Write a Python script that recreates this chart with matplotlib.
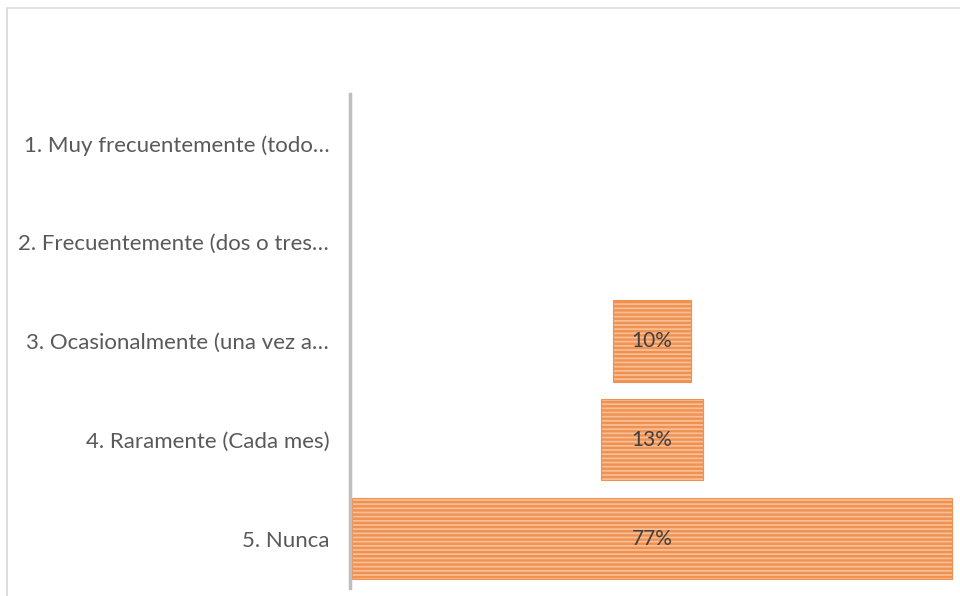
import matplotlib.pyplot as plt
from matplotlib.patches import Rectangle

categories = [
    "1. Muy frecuentemente (todo…",
    "2. Frecuentemente (dos o tres…",
    "3. Ocasionalmente (una vez a…",
    "4. Raramente (Cada mes)",
    "5. Nunca",
]
values = [0, 0, 10, 13, 77]
labels = ["", "", "10%", "13%", "77%"]

plt.rcParams['font.family'] = ['Lato', 'DejaVu Sans']
plt.rcParams['hatch.linewidth'] = 1.7
plt.rcParams['hatch.color'] = '#ED7D31'

fig = plt.figure(figsize=(9.6, 5.96), dpi=100)
# chart frame
fig.patches.append(Rectangle((7 / 960, -0.01), 1.0, 1 - 8 / 596 + 0.01, transform=fig.transFigure,
                             fill=False, edgecolor='#D9D9D9', linewidth=1.2))

ax = fig.add_axes([350 / 960, 1 - 588 / 596, 604 / 960, (588 - 94) / 596])

y = list(range(len(categories)))
for i, v in enumerate(values):
    if v == 0:
        continue
    ax.barh(i, v, left=-v / 2, height=0.82, color='#F7BE98', edgecolor='#F0914F',
            linewidth=0.8, hatch='----')
    ax.text(0, i, labels[i], ha='center', va='center', fontsize=15, color='#404040')

ax.set_xlim(-38.75, 38.75)
ax.set_ylim(len(categories) - 0.5, -0.5)
ax.set_yticks(y)
ax.set_yticklabels(categories, fontsize=16, color='#595959')
ax.tick_params(axis='y', length=0, pad=15)
ax.set_xticks([])
for s in ['top', 'right', 'bottom']:
    ax.spines[s].set_visible(False)
ax.spines['left'].set_color('#BFBFBF')
ax.spines['left'].set_linewidth(2.5)

fig.savefig('out.png', dpi=100)
